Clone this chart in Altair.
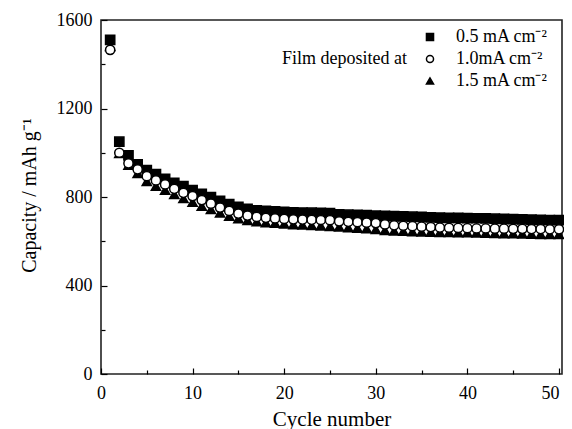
import altair as alt
import pandas as pd

cycles = list(range(1, 51))
cap_05 = [1510, 1050, 988, 947, 921, 903, 882, 864, 849, 831,
          814, 799, 783, 768, 755, 746, 740, 737, 735, 733,
          731, 730, 729, 728, 727, 722, 720, 719, 718, 716,
          715, 714, 712, 711, 710, 708, 707, 706, 706, 705,
          704, 703, 702, 701, 700, 699, 698, 697, 696, 695]
cap_10 = [1465, 1000, 952, 925, 894, 875, 857, 837, 819, 804,
          786, 770, 752, 737, 725, 716, 710, 706, 703, 701,
          699, 698, 697, 696, 695, 690, 688, 686, 684, 682,
          676, 672, 670, 668, 666, 664, 662, 661, 660, 659,
          658, 658, 657, 657, 656, 656, 655, 655, 654, 654]
cap_15 = [1480, 997, 944, 906, 870, 849, 831, 811, 793, 776,
          758, 743, 728, 713, 702, 694, 688, 684, 681, 678,
          675, 673, 671, 669, 667, 664, 661, 659, 656, 653,
          649, 646, 645, 643, 642, 641, 640, 639, 638, 638,
          637, 636, 635, 634, 634, 633, 632, 631, 630, 630]
series = ["0.5 mA cm⁻²", "1.0mA cm⁻²", "1.5 mA cm⁻²"]
x_major = [0, 10, 20, 30, 40, 50]
x_minor = [5, 15, 25, 35, 45]
y_major = [0, 400, 800, 1200, 1600]
y_minor = [200, 600, 1000, 1400]

rows = []
for name, vals, z in ((series[0], cap_05, 0), (series[2], cap_15, 1), (series[1], cap_10, 2)):
    for c, v in zip(cycles, vals):
        rows.append({"cycle": c, "cap": v, "series": name, "z": z})
df = pd.DataFrame(rows)

FONT = "Liberation Serif"
xscale = alt.Scale(domain=[0, 50.33], nice=False, zero=False)
yscale = alt.Scale(domain=[0, 1600], nice=False)

legend = alt.Legend(
    orient="none", legendX=181, legendY=8, title="Film deposited at",
    titleOrient="left", titleAnchor="middle", titleBaseline="middle",
    titleFont=FONT, titleFontSize=18, titleFontWeight="normal", titleColor="black",
    titlePadding=14,
    labelFont=FONT, labelFontSize=18, labelColor="black", labelOffset=17,
    symbolSize=50, symbolStrokeWidth=1.5, rowPadding=4, padding=0,
)

points = alt.Chart(df).mark_point(size=85, strokeWidth=1.5, opacity=1, stroke="black").encode(
    x=alt.X("cycle:Q", scale=xscale, axis=alt.Axis(
        values=x_major, format="d", title="Cycle number", tickSize={"expr": "-6"}, tickColor="black",
        tickWidth=1.2, domain=False, grid=False, labelFont=FONT, labelFontSize=18,
        labelAlign={"expr": "datum.value == 50 ? 'right' : 'center'"},
        labelColor="black", labelPadding=16, titleFont=FONT, titleFontSize=21,
        titleFontWeight="normal", titleColor="black", titleBaseline="alphabetic", titleY=51)),
    y=alt.Y("cap:Q", scale=yscale, axis=alt.Axis(
        values=y_major, format="d", title="Capacity / mAh g⁻¹", tickSize={"expr": "-6"}, tickColor="black",
        tickWidth=1.2, domain=False, grid=False, labelFont=FONT, labelFontSize=18,
        labelColor="black", labelPadding=15, titleFont=FONT, titleFontSize=20,
        titleFontWeight="normal", titleColor="black", titleX=-72, titleY=175,
        titleBaseline="middle", titleAngle=270)),
    shape=alt.Shape("series:N", scale=alt.Scale(domain=series, range=["square", "circle", "triangle-up"]), legend=legend),
    fill=alt.Fill("series:N", scale=alt.Scale(domain=series, range=["black", "white", "black"]), legend=legend),
    order=alt.Order("z:Q"),
)

minor = alt.Chart(df).mark_point(opacity=0).encode(
    x=alt.X("cycle:Q", scale=xscale, axis=alt.Axis(
        values=x_minor, labels=False, title=None, tickSize={"expr": "-4"}, tickColor="black",
        tickWidth=1.2, domain=False, grid=False, orient="bottom")),
    y=alt.Y("cap:Q", scale=yscale, axis=alt.Axis(
        values=y_minor, labels=False, title=None, tickSize={"expr": "-4"}, tickColor="black",
        tickWidth=1.2, domain=False, grid=False, orient="left")),
)

chart = alt.layer(points, minor).resolve_axis(x="independent", y="independent").properties(
    width=461, height=354, autosize="none",
    padding={"left": 93, "top": 12, "right": 2, "bottom": 55},
).configure_view(stroke="#222", strokeWidth=1.6)

chart.save("out.html", embed_options={"renderer": "svg", "actions": False})
